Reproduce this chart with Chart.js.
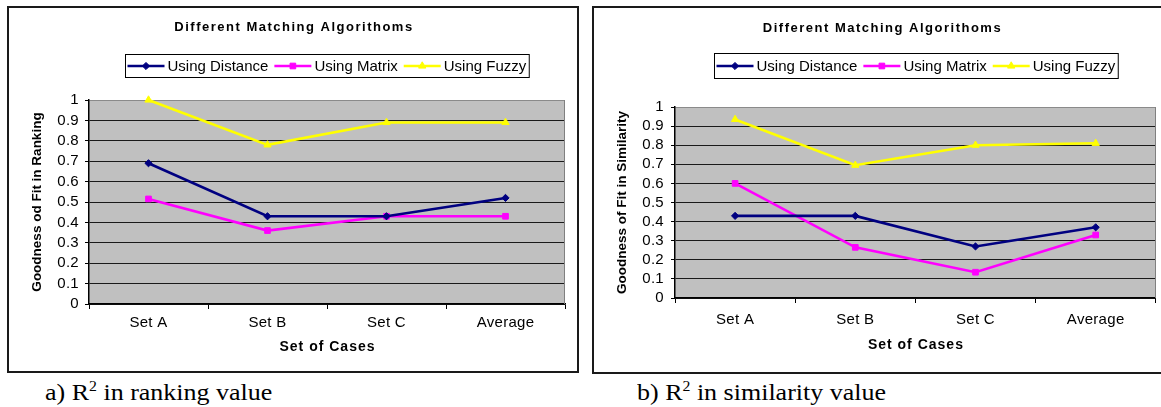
<!DOCTYPE html>
<html><head><meta charset="utf-8">
<script src="https://cdn.jsdelivr.net/npm/chart.js@4.4.1/dist/chart.umd.min.js"></script>
<style>
html,body{margin:0;padding:0;background:#fff;width:1161px;height:407px;overflow:hidden;position:relative;font-family:"Liberation Sans",Arial,sans-serif}
.box{position:absolute;border:2px solid #1a1a1a;box-sizing:border-box}
.cv{position:absolute}
.cv canvas{display:block}
.cap{position:absolute;font-family:"Liberation Serif","Times New Roman",serif;font-size:23px;line-height:23px;white-space:nowrap;transform:scaleX(1.13);transform-origin:0 0;color:#000}
.cap sup{font-size:14px;line-height:0;vertical-align:baseline;position:relative;top:-9px}
</style></head>
<body>
<div class="box" style="left:7px;top:6px;width:572px;height:367px"></div>
<div class="box" style="left:592px;top:6px;width:580px;height:368px"></div>
<div class="cv" style="left:10px;top:9px"><canvas id="c1" width="566" height="361"></canvas></div>
<div class="cv" style="left:595px;top:9px"><canvas id="c2" width="566" height="361"></canvas></div>
<div class="cap" style="left:45px;top:381px">a) R<sup>2</sup> in ranking value</div>
<div class="cap" style="left:637px;top:381px">b) R<sup>2</sup> in similarity value</div>
<script>
// ---- data ----
const categories = ['Set A', 'Set B', 'Set C', 'Average'];
const seriesNames = ['Using Distance', 'Using Matrix', 'Using Fuzzy'];
const chartTitle = 'Different Matching Algorithoms';
const xAxisTitle = 'Set of Cases';
const rankingYTitle = 'Goodness od Fit in Ranking';
const similarityYTitle = 'Goodness of Fit in Similarity';
const rankingDistance = [0.69, 0.43, 0.43, 0.52];
const rankingMatrix = [0.515, 0.36, 0.43, 0.43];
const rankingFuzzy = [1.0, 0.78, 0.89, 0.89];
const similarityDistance = [0.43, 0.43, 0.27, 0.37];
const similarityMatrix = [0.60, 0.265, 0.135, 0.33];
const similarityFuzzy = [0.935, 0.695, 0.80, 0.81];
const yTickValues = [0, 0.1, 0.2, 0.3, 0.4, 0.5, 0.6, 0.7, 0.8, 0.9, 1];
const yTickLabels = ['0', '0.1', '0.2', '0.3', '0.4', '0.5', '0.6', '0.7', '0.8', '0.9', '1'];

const FONT = '"Liberation Sans", Arial, sans-serif';
Chart.defaults.font.family = FONT;

const seriesStyle = [
  {color: '#000080', pointStyle: 'rectRot', pointRadius: 3.6},
  {color: '#FF00FF', pointStyle: 'rect', pointRadius: 4},
  {color: '#FFFF00', pointStyle: 'triangle', pointRadius: 4.2}
];

function buildDatasets(arrays) {
  return arrays.map((arr, i) => ({
    label: seriesNames[i],
    data: arr,
    borderColor: seriesStyle[i].color,
    backgroundColor: seriesStyle[i].color,
    pointBackgroundColor: seriesStyle[i].color,
    pointBorderColor: seriesStyle[i].color,
    pointStyle: seriesStyle[i].pointStyle,
    pointRadius: seriesStyle[i].pointRadius,
    pointBorderWidth: 1,
    borderWidth: 2.6,
    tension: 0,
    fill: false,
    clip: false
  }));
}

const decoPlugin = {
  id: 'excelDeco',
  beforeDraw(chart) {
    const ctx = chart.ctx, a = chart.chartArea;
    ctx.save();
    ctx.fillStyle = '#C0C0C0';
    ctx.fillRect(a.left, a.top, a.right - a.left, a.bottom - a.top);
    ctx.restore();
    if ('letterSpacing' in ctx) ctx.letterSpacing = '0.3px';
  },
  afterDraw(chart, args, o) {
    const ctx = chart.ctx, a = chart.chartArea;
    ctx.save();
    if ('letterSpacing' in ctx) ctx.letterSpacing = '0px';
    // right border of plot area
    ctx.strokeStyle = '#808080'; ctx.lineWidth = 1;
    ctx.beginPath(); ctx.moveTo(Math.round(a.right) - 0.5, a.top); ctx.lineTo(Math.round(a.right) - 0.5, a.bottom); ctx.stroke();
    // title
    ctx.fillStyle = '#000'; ctx.textAlign = 'center'; ctx.textBaseline = 'middle';
    ctx.font = 'bold 13px ' + FONT;
    if ('letterSpacing' in ctx) ctx.letterSpacing = '1.5px';
    ctx.fillText(chartTitle, o.titleX + 1, o.titleY);
    // x axis title
    ctx.font = 'bold 14px ' + FONT;
    if ('letterSpacing' in ctx) ctx.letterSpacing = '1px';
    ctx.fillText(xAxisTitle, (a.left + a.right) / 2 + 0.5, o.xTitleY);
    // y axis title
    if ('letterSpacing' in ctx) ctx.letterSpacing = '0px';
    ctx.save();
    ctx.translate(o.yTitleX, (a.top + a.bottom) / 2);
    ctx.rotate(-Math.PI / 2);
    ctx.font = 'bold 13.5px ' + FONT;
    ctx.fillText(o.yTitle, 0, 0);
    ctx.restore();
    // legend
    const ds = chart.data.datasets;
    ctx.font = '15px ' + FONT;
    const lineLen = 37, pad = 2, gapLT = 3, gapItems = 6;
    const widths = ds.map(d => ctx.measureText(d.label).width);
    let W = pad * 2 + 1;
    ds.forEach((d, i) => { W += lineLen + gapLT + widths[i]; });
    W += gapItems * (ds.length - 1);
    const cx = (a.left + a.right) / 2;
    const x0 = Math.round(cx - W / 2) + 0.5;
    const top = o.legTop + 0.5, h = o.legH;
    ctx.fillStyle = '#fff'; ctx.fillRect(x0, top, W, h);
    ctx.strokeStyle = '#000'; ctx.lineWidth = 1; ctx.strokeRect(x0, top, W, h);
    const cy = top + h / 2;
    let xp = x0 + pad;
    ds.forEach((d, i) => {
      ctx.strokeStyle = d.borderColor; ctx.lineWidth = d.borderWidth;
      ctx.beginPath(); ctx.moveTo(xp, cy); ctx.lineTo(xp + lineLen, cy); ctx.stroke();
      ctx.fillStyle = d.pointBackgroundColor; ctx.strokeStyle = d.pointBorderColor; ctx.lineWidth = 1;
      Chart.helpers.drawPoint(ctx, {pointStyle: d.pointStyle, radius: d.pointRadius, rotation: 0, borderWidth: 1}, xp + lineLen / 2, cy);
      ctx.fillStyle = '#000'; ctx.textAlign = 'left'; ctx.textBaseline = 'middle';
      ctx.fillText(d.label, xp + lineLen + gapLT, cy + 1);
      xp += lineLen + gapLT + widths[i] + gapItems;
    });
    ctx.restore();
  }
};

function makeChart(id, arrays, yTitle, g) {
  return new Chart(document.getElementById(id), {
    type: 'line',
    data: {labels: categories, datasets: buildDatasets(arrays)},
    options: {
      responsive: false,
      animation: false,
      events: [],
      layout: {padding: {left: 0, right: g.padR, top: g.padT, bottom: 0}},
      plugins: {
        legend: {display: false},
        title: {display: false},
        tooltip: {enabled: false},
        excelDeco: {titleX: g.titleX, titleY: g.titleY, xTitleY: g.xTitleY, yTitleX: g.yTitleX, yTitle: yTitle, legTop: g.legTop, legH: g.legH}
      },
      scales: {
        x: {
          type: 'category',
          offset: true,
          grid: {display: true, drawOnChartArea: false, drawTicks: true, tickLength: 5, offset: true, color: '#000', lineWidth: 1},
          border: {display: true, color: '#000', width: 1.5},
          ticks: {color: '#000', font: {size: 15}, padding: g.xPad, maxRotation: 0, autoSkip: false},
          afterFit(s) { s.height = g.xH; }
        },
        y: {
          min: yTickValues[0], max: yTickValues[yTickValues.length - 1],
          afterBuildTicks(s) { s.ticks = yTickValues.map(v => ({value: v})); },
          ticks: {autoSkip: false, color: '#000', font: {size: 15}, padding: g.yPad,
                  callback: (v) => { const i = yTickValues.findIndex(t => Math.abs(t - v) < 1e-9); return i >= 0 ? yTickLabels[i] : ''; }},
          grid: {color: c => (c.tick && Math.abs(c.tick.value - 1) < 1e-9) ? '#8a8a8a' : '#1a1a1a',
                 tickColor: '#000', tickLength: 4, lineWidth: 1, drawTicks: true},
          border: {display: true, color: '#000', width: 1.5},
          afterFit(s) { s.width = g.yW; }
        }
      }
    },
    plugins: [decoPlugin]
  });
}

makeChart('c1', [rankingDistance, rankingMatrix, rankingFuzzy], rankingYTitle,
  {padR: 11, padT: 91, yW: 79, xH: 66, xPad: 5, yPad: 6, titleX: 283, titleY: 18, xTitleY: 338, yTitleX: 27.5, legTop: 45, legH: 23});
makeChart('c2', [similarityDistance, similarityMatrix, similarityFuzzy], similarityYTitle,
  {padR: 5, padT: 98, yW: 80, xH: 72, xPad: 8, yPad: 7, titleX: 286.5, titleY: 19, xTitleY: 336, yTitleX: 27, legTop: 44, legH: 25});
</script>
</body></html>
